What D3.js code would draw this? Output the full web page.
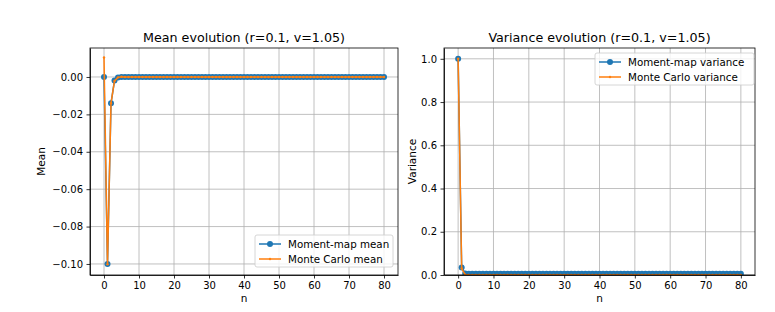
<!DOCTYPE html>
<meta charset="utf-8">
<style>
body { margin: 0; background: #fff; }
text { font-family: "DejaVu Sans", sans-serif; fill: #000; }
.grid line { stroke: #b0b0b0; stroke-width: 0.8px; }
.axis path, .axis line { stroke: #000; stroke-width: 0.8px; }
.axis text { font-size: 10px; }
</style>
<svg width="775" height="312"></svg>
<script src="https://d3js.org/d3.v7.min.js"></script>
<script>

// step index
var steps = d3.range(81);

var xTicks = [0, 10, 20, 30, 40, 50, 60, 70, 80];
var meanTicks = [0, -0.02, -0.04, -0.06, -0.08, -0.10];
var varTicks = [0, 0.2, 0.4, 0.6, 0.8, 1.0];

var momentMean = [
  0, -0.1, -0.0141, -0.0019, -0.0003, 0, 0, 0, 0, 0,
  0, 0, 0, 0, 0, 0, 0, 0, 0, 0,
  0, 0, 0, 0, 0, 0, 0, 0, 0, 0,
  0, 0, 0, 0, 0, 0, 0, 0, 0, 0,
  0, 0, 0, 0, 0, 0, 0, 0, 0, 0,
  0, 0, 0, 0, 0, 0, 0, 0, 0, 0,
  0, 0, 0, 0, 0, 0, 0, 0, 0, 0,
  0, 0, 0, 0, 0, 0, 0, 0, 0, 0,
  0
];
var mcMean = [
  0.0104, -0.1002, -0.0140, -0.0021, -0.0002, 0.0001, 0, 0, 0, 0,
  0, 0, 0, 0, 0, 0, 0, 0, 0, 0,
  0, 0, 0, 0, 0, 0, 0, 0, 0, 0,
  0, 0, 0, 0, 0, 0, 0, 0, 0, 0,
  0, 0, 0, 0, 0, 0, 0, 0, 0, 0,
  0, 0, 0, 0, 0, 0, 0, 0, 0, 0,
  0, 0, 0, 0, 0, 0, 0, 0, 0, 0,
  0, 0, 0, 0, 0, 0, 0, 0, 0, 0,
  0
];
var momentVar = [
  1.0, 0.035, 0.0066, 0.0062, 0.0062, 0.0062, 0.0062, 0.0062, 0.0062, 0.0062,
  0.0062, 0.0062, 0.0062, 0.0062, 0.0062, 0.0062, 0.0062, 0.0062, 0.0062, 0.0062,
  0.0062, 0.0062, 0.0062, 0.0062, 0.0062, 0.0062, 0.0062, 0.0062, 0.0062, 0.0062,
  0.0062, 0.0062, 0.0062, 0.0062, 0.0062, 0.0062, 0.0062, 0.0062, 0.0062, 0.0062,
  0.0062, 0.0062, 0.0062, 0.0062, 0.0062, 0.0062, 0.0062, 0.0062, 0.0062, 0.0062,
  0.0062, 0.0062, 0.0062, 0.0062, 0.0062, 0.0062, 0.0062, 0.0062, 0.0062, 0.0062,
  0.0062, 0.0062, 0.0062, 0.0062, 0.0062, 0.0062, 0.0062, 0.0062, 0.0062, 0.0062,
  0.0062, 0.0062, 0.0062, 0.0062, 0.0062, 0.0062, 0.0062, 0.0062, 0.0062, 0.0062,
  0.0062
];
var mcVar = [
  1.0, 0.030, 0.0012, 0.0006, 0.0005, 0.0005, 0.0005, 0.0005, 0.0005, 0.0005,
  0.0005, 0.0005, 0.0005, 0.0005, 0.0005, 0.0005, 0.0005, 0.0005, 0.0005, 0.0005,
  0.0005, 0.0005, 0.0005, 0.0005, 0.0005, 0.0005, 0.0005, 0.0005, 0.0005, 0.0005,
  0.0005, 0.0005, 0.0005, 0.0005, 0.0005, 0.0005, 0.0005, 0.0005, 0.0005, 0.0005,
  0.0005, 0.0005, 0.0005, 0.0005, 0.0005, 0.0005, 0.0005, 0.0005, 0.0005, 0.0005,
  0.0005, 0.0005, 0.0005, 0.0005, 0.0005, 0.0005, 0.0005, 0.0005, 0.0005, 0.0005,
  0.0005, 0.0005, 0.0005, 0.0005, 0.0005, 0.0005, 0.0005, 0.0005, 0.0005, 0.0005,
  0.0005, 0.0005, 0.0005, 0.0005, 0.0005, 0.0005, 0.0005, 0.0005, 0.0005, 0.0005,
  0.0005
];

var blue = "#1f77b4", orange = "#ff7f0e";
var svg = d3.select("svg");

function panel(opt) {
  var x = d3.scaleLinear().domain([-4, 84]).range([opt.left, opt.right]);
  var y = d3.scaleLinear().domain(opt.ydom).range([opt.bottom, opt.top]);
  var g = svg.append("g");

  // grid
  var grid = g.append("g").attr("class", "grid");
  grid.selectAll(".gx").data(xTicks).enter().append("line")
    .attr("x1", d => x(d)).attr("x2", d => x(d))
    .attr("y1", opt.top).attr("y2", opt.bottom);
  grid.selectAll(".gy").data(opt.yticks).enter().append("line")
    .attr("x1", opt.left).attr("x2", opt.right)
    .attr("y1", d => y(d)).attr("y2", d => y(d));

  // series
  var clip = "clip" + opt.id;
  svg.append("clipPath").attr("id", clip).append("rect")
    .attr("x", opt.left).attr("y", opt.top)
    .attr("width", opt.right - opt.left).attr("height", opt.bottom - opt.top);
  var plot = g.append("g").attr("clip-path", "url(#" + clip + ")");
  var line = d3.line().x((d, i) => x(steps[i])).y(d => y(d));

  plot.append("path").datum(opt.a).attr("d", line)
    .attr("fill", "none").attr("stroke", blue).attr("stroke-width", 1.5);
  plot.selectAll(".ma").data(opt.a).enter().append("circle")
    .attr("cx", (d, i) => x(steps[i])).attr("cy", d => y(d))
    .attr("r", 3).attr("fill", blue);
  plot.append("path").datum(opt.b).attr("d", line)
    .attr("fill", "none").attr("stroke", orange).attr("stroke-width", 1.5);
  plot.selectAll(".mb").data(opt.b).enter().append("circle")
    .attr("cx", (d, i) => x(steps[i])).attr("cy", d => y(d))
    .attr("r", 1.2).attr("fill", orange);

  // axes
  g.append("g").attr("class", "axis")
    .attr("transform", "translate(0," + opt.bottom + ")")
    .call(d3.axisBottom(x).tickValues(xTicks).tickSize(3.5).tickPadding(3.5).tickSizeOuter(0));
  g.append("g").attr("class", "axis")
    .attr("transform", "translate(" + opt.left + ",0)")
    .call(d3.axisLeft(y).tickValues(opt.yticks).tickSize(3.5).tickPadding(3.5)
      .tickSizeOuter(0).tickFormat(d => d3.format(opt.fmt)(d).replace("-", "\u2212")));
  g.append("rect").attr("x", opt.left).attr("y", opt.top)
    .attr("width", opt.right - opt.left).attr("height", opt.bottom - opt.top)
    .attr("fill", "none").attr("stroke", "#000").attr("stroke-width", 0.8);

  // labels
  g.append("text").attr("x", (opt.left + opt.right) / 2).attr("y", 42)
    .attr("text-anchor", "middle").style("font-size", "12.7px").text(opt.title);
  g.append("text").attr("x", (opt.left + opt.right) / 2).attr("y", 302)
    .attr("text-anchor", "middle").style("font-size", "10.5px").text("n");
  g.append("text").attr("transform", "translate(" + opt.ylabX + "," + ((opt.top + opt.bottom) / 2) + ") rotate(-90)")
    .attr("text-anchor", "middle").style("font-size", "10.5px").text(opt.ylabel);

  // legend
  var L = opt.legend;
  var lg = g.append("g").attr("transform", "translate(" + L.x + "," + L.y + ")");
  lg.append("rect").attr("width", L.w).attr("height", 32).attr("rx", 2)
    .attr("fill", "#fff").attr("fill-opacity", 0.8).attr("stroke", "#cccccc").attr("stroke-width", 0.8);
  [[blue, opt.names[0], 3], [orange, opt.names[1], 1.2]].forEach(function (s, i) {
    var yy = 9 + i * 15;
    lg.append("line").attr("x1", 4).attr("x2", 26).attr("y1", yy).attr("y2", yy)
      .attr("stroke", s[0]).attr("stroke-width", 1.5);
    lg.append("circle").attr("cx", 15).attr("cy", yy).attr("r", s[2]).attr("fill", s[0]);
    lg.append("text").attr("x", 33).attr("y", yy + 3.8).style("font-size", "10.3px").text(s[1]);
  });
}

panel({
  id: 1, left: 90, right: 398, top: 48, bottom: 275,
  ydom: [-0.1059, 0.0155], yticks: meanTicks, fmt: ".2f",
  a: momentMean, b: mcMean,
  title: "Mean evolution (r=0.1, v=1.05)", ylabel: "Mean", ylabX: 45,
  names: ["Moment-map mean", "Monte Carlo mean"],
  legend: { x: 255, y: 235, w: 138 }
});
panel({
  id: 2, left: 444, right: 755, top: 48, bottom: 275,
  ydom: [0, 1.05], yticks: varTicks, fmt: ".1f",
  a: momentVar, b: mcVar,
  title: "Variance evolution (r=0.1, v=1.05)", ylabel: "Variance", ylabX: 416,
  names: ["Moment-map variance", "Monte Carlo variance"],
  legend: { x: 595, y: 53, w: 159 }
});

</script>
